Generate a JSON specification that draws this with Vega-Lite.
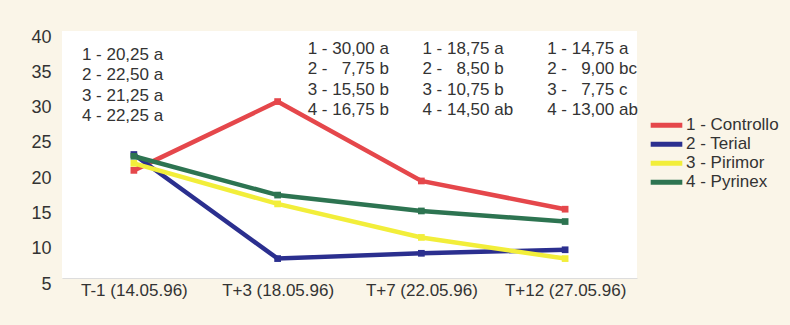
{
  "$schema": "https://vega.github.io/schema/vega-lite/v6.json",
  "width": 575,
  "height": 247,
  "autosize": "none",
  "padding": {"left": 62, "top": 31, "right": 153, "bottom": 47},
  "background": "#faf5e8",
  "view": {"fill": "white", "stroke": null},
  "config": {
    "font": "Liberation Sans",
    "text": {"font": "Liberation Sans"},
    "axisY": {"labelOverlap": false}
  },
  "datasets": {
    "series": [
      {"t": "T-1 (14.05.96)", "s": "1 - Controllo", "v": 20.25},
      {"t": "T-1 (14.05.96)", "s": "2 - Terial", "v": 22.5},
      {"t": "T-1 (14.05.96)", "s": "3 - Pirimor", "v": 21.25},
      {"t": "T-1 (14.05.96)", "s": "4 - Pyrinex", "v": 22.25},
      {"t": "T+3 (18.05.96)", "s": "1 - Controllo", "v": 30.0},
      {"t": "T+3 (18.05.96)", "s": "2 - Terial", "v": 7.75},
      {"t": "T+3 (18.05.96)", "s": "3 - Pirimor", "v": 15.5},
      {"t": "T+3 (18.05.96)", "s": "4 - Pyrinex", "v": 16.75},
      {"t": "T+7 (22.05.96)", "s": "1 - Controllo", "v": 18.75},
      {"t": "T+7 (22.05.96)", "s": "2 - Terial", "v": 8.5},
      {"t": "T+7 (22.05.96)", "s": "3 - Pirimor", "v": 10.75},
      {"t": "T+7 (22.05.96)", "s": "4 - Pyrinex", "v": 14.5},
      {"t": "T+12 (27.05.96)", "s": "1 - Controllo", "v": 14.75},
      {"t": "T+12 (27.05.96)", "s": "2 - Terial", "v": 9.0},
      {"t": "T+12 (27.05.96)", "s": "3 - Pirimor", "v": 7.75},
      {"t": "T+12 (27.05.96)", "s": "4 - Pyrinex", "v": 13.0}
    ],
    "notes": [
      {"t": "T-1 (14.05.96)", "txt": "1 - 20,25 a\n2 - 22,50 a\n3 - 21,25 a\n4 - 22,25 a"},
      {"t": "T+3 (18.05.96)", "txt": "1 - 30,00 a\n2 - \u20077,75 b\n3 - 15,50 b\n4 - 16,75 b"},
      {"t": "T+7 (22.05.96)", "txt": "1 - 18,75 a\n2 - \u20078,50 b\n3 - 10,75 b\n4 - 14,50 ab"},
      {"t": "T+12 (27.05.96)", "txt": "1 - 14,75 a\n2 - \u20079,00 bc\n3 - \u20077,75 c\n4 - 13,00 ab"}
    ]
  },
  "layer": [
    {
      "data": {"name": "series"},
      "mark": {"type": "line", "strokeWidth": 4.5, "point": {"shape": "square", "size": 45, "filled": true}},
      "encoding": {
        "x": {
          "field": "t", "type": "ordinal", "sort": null,
          "scale": {"type": "point", "padding": 0.5},
          "axis": {"title": null, "labelAngle": 0, "ticks": false, "domain": true, "domainColor": "#dddddd", "labelFontSize": 17, "labelColor": "#333333", "labelPadding": 4}
        },
        "y": {
          "field": "v", "type": "quantitative",
          "scale": {"domain": [5, 40], "nice": false, "zero": false},
          "axis": {"title": null, "tickCount": 8, "values": [5, 10, 15, 20, 25, 30, 35, 40], "labelOverlap": false, "labelFlush": false, "grid": false, "domain": false, "ticks": false, "labelFontSize": 18, "labelColor": "#333333", "labelPadding": 11, "labelOffset": 6}
        },
        "color": {
          "field": "s", "type": "nominal",
          "scale": {"domain": ["1 - Controllo", "2 - Terial", "3 - Pirimor", "4 - Pyrinex"], "range": ["#e5474b", "#2b2f8f", "#f2ee3a", "#2d7451"]},
          "legend": {"title": null, "orient": "none", "legendX": 586, "legendY": 85, "symbolType": "stroke", "symbolSize": 1000, "symbolStrokeWidth": 5, "clipHeight": 18.5, "labelFontSize": 17, "labelColor": "#333333", "rowPadding": 0, "labelOffset": 1}
        }
      }
    },
    {
      "data": {"name": "notes"},
      "transform": [{"filter": "datum.t === 'T-1 (14.05.96)'"}],
      "mark": {"type": "text", "align": "left", "baseline": "alphabetic", "lineBreak": "\n", "lineHeight": 20.3, "fontSize": 17, "dx": -52, "dy": 29, "color": "#333333"},
      "encoding": {"x": {"field": "t", "type": "ordinal", "sort": null}, "y": {"datum": 40}, "text": {"field": "txt"}}
    },
    {
      "data": {"name": "notes"},
      "transform": [{"filter": "datum.t === 'T+3 (18.05.96)'"}],
      "mark": {"type": "text", "align": "left", "baseline": "alphabetic", "lineBreak": "\n", "lineHeight": 20.3, "fontSize": 17, "dx": 30, "dy": 23, "color": "#333333"},
      "encoding": {"x": {"field": "t", "type": "ordinal", "sort": null}, "y": {"datum": 40}, "text": {"field": "txt"}}
    },
    {
      "data": {"name": "notes"},
      "transform": [{"filter": "datum.t === 'T+7 (22.05.96)'"}],
      "mark": {"type": "text", "align": "left", "baseline": "alphabetic", "lineBreak": "\n", "lineHeight": 20.3, "fontSize": 17, "dx": 1, "dy": 23, "color": "#333333"},
      "encoding": {"x": {"field": "t", "type": "ordinal", "sort": null}, "y": {"datum": 40}, "text": {"field": "txt"}}
    },
    {
      "data": {"name": "notes"},
      "transform": [{"filter": "datum.t === 'T+12 (27.05.96)'"}],
      "mark": {"type": "text", "align": "left", "baseline": "alphabetic", "lineBreak": "\n", "lineHeight": 20.3, "fontSize": 17, "dx": -18, "dy": 23, "color": "#333333"},
      "encoding": {"x": {"field": "t", "type": "ordinal", "sort": null}, "y": {"datum": 40}, "text": {"field": "txt"}}
    }
  ]
}
